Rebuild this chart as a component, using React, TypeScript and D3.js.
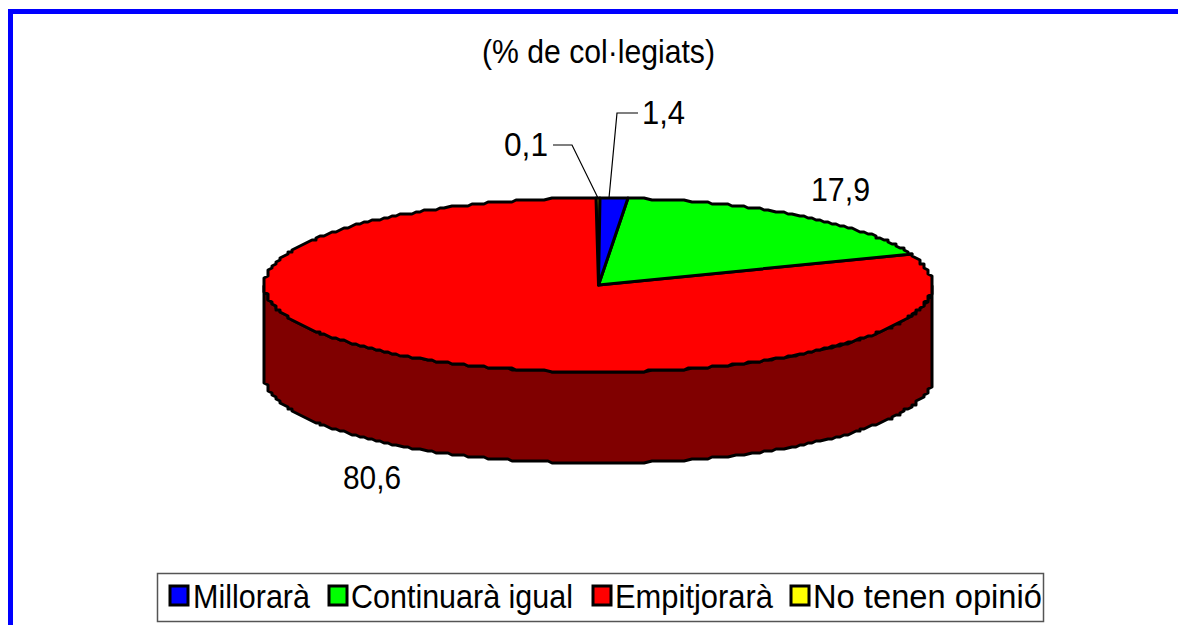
import React from "react";
import * as d3 from "d3";

const categories = ["Millorarà", "Continuarà igual", "Empitjorarà", "No tenen opinió"];
const values = [1.4, 17.9, 80.6, 0.1];
const valueLabels = ["1,4", "17,9", "80,6", "0,1"];
const colors = ["#0000ff", "#00ff00", "#ff0000", "#ffff00"];
const labelX = [642, 811, 343, 504];
const labelY = [124, 201, 489, 156];
const labelW = [43, 59, 58, 44];
const legendX = [170, 329, 593, 791];
const legendTextX = [193, 351, 615, 813];
const legendTextW = [117, 222, 158, 229];

const width = 1178;
const height = 625;
const cx = 598.5;
const cy = 285;
const rx = 334;
const ry = 87;
const depth = 91;
const gridX = 4;
const gridY = 2; // the outline of the source picture is visibly stepped

// angle (0 = up, clockwise) onto the tilted ellipse
const project = (a: number): [number, number] => [
    Math.round((cx + rx * Math.sin(a)) / gridX) * gridX,
    Math.round((cy - ry * Math.cos(a)) / gridY) * gridY,
];
const line = d3.line();

function rim(a0: number, a1: number) {
    const n = Math.max(1, Math.ceil(((a1 - a0) / (2 * Math.PI)) * 360));
    return d3.range(n + 1).map((i) => project(a0 + ((a1 - a0) * i) / n));
}

export default function App() {
    const arcs = d3.pie<number>().sort(null)(values);

    const front = rim(Math.PI / 2, (3 * Math.PI) / 2);
    const lower = front.slice().reverse().map(([x, y]) => [x, y + depth] as [number, number]);
    const side = line([...front, ...lower]) + "Z";

    return (
        <svg
            width={width}
            height={height}
            style={{ position: "absolute", left: 0, top: 0, background: "#fff" }}
            fontFamily="'Liberation Sans', Arial, sans-serif"
        >
            <rect x={8} y={9} width={width - 8} height={5} fill="#0000ff" />
            <rect x={8} y={9} width={5} height={height - 9} fill="#0000ff" />

            <text x={482} y={63} fontSize={33} textLength={233} lengthAdjust="spacingAndGlyphs" fill="#000">
                (% de col·legiats)
            </text>

            <path d={side} fill="#800000" stroke="#000" strokeWidth={3} strokeLinejoin="round" />
            {/* last slice first, so the neighbouring outlines cover the 0,1 sliver */}
            {arcs.map((d, i) => ({ d, i })).reverse().map(({ d, i }) => (
                <path
                    key={categories[i]}
                    d={line([[cx, cy], ...rim(d.startAngle, d.endAngle)]) + "Z"}
                    fill={colors[i]}
                    stroke="#000"
                    strokeWidth={3}
                    strokeLinejoin="round"
                />
            ))}

            <polyline points="553,145 572,145 598,198" fill="none" stroke="#000" strokeWidth={1.2} />
            <polyline points="638,113 617,113 609,198" fill="none" stroke="#000" strokeWidth={1.2} />

            <g fontSize={33} fill="#000">
                {valueLabels.map((t, i) => (
                    <text key={t} x={labelX[i]} y={labelY[i]} textLength={labelW[i]} lengthAdjust="spacingAndGlyphs">
                        {t}
                    </text>
                ))}
            </g>

            <rect x={157.5} y={573.5} width={886} height={48} fill="#fff" stroke="#555" strokeWidth={1.5} />
            {categories.map((c, i) => (
                <g key={c}>
                    <rect x={legendX[i]} y={586} width={18} height={19} fill={colors[i]} stroke="#000" strokeWidth={3} />
                    <text
                        x={legendTextX[i]}
                        y={608}
                        fontSize={33}
                        textLength={legendTextW[i]}
                        lengthAdjust="spacingAndGlyphs"
                        fill="#000"
                    >
                        {c}
                    </text>
                </g>
            ))}
        </svg>
    );
}
